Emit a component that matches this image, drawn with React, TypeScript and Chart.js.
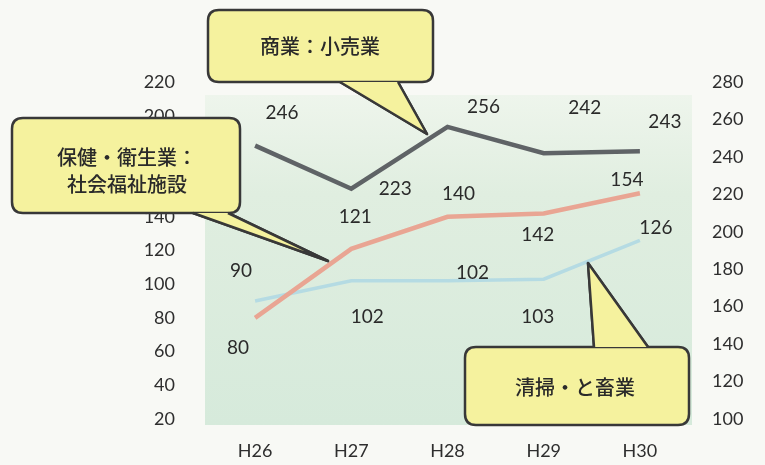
import React, { useEffect, useRef } from "react";
import { Chart, registerables } from "chart.js";

Chart.register(...registerables);

const categories = ["H26", "H27", "H28", "H29", "H30"];
const retail = [246, 223, 256, 242, 243]; // 商業：小売業 (right axis)
const welfare = [80, 121, 140, 142, 154]; // 保健・衛生業：社会福祉施設 (left axis)
const cleaning = [90, 102, 102, 103, 126]; // 清掃・と畜業 (left axis)
const leftTicks = [20, 220, 20];
const rightTicks = [100, 280, 20];

// label offsets (dx, dy) in px relative to each point
const retailLabelOffsets = [[27, -33], [44, 0], [36, -20], [41, -45], [25, -29]];
const welfareLabelOffsets = [[-17, 30], [4, -32], [11, -23], [-6, 21], [-13, -13]];
const cleaningLabelOffsets = [[-14, -30], [16, 36], [25, -8], [-6, 38], [16, -13]];

const FONT = "Lato, 'Open Sans', sans-serif";
const JP = "'Noto Sans CJK JP', sans-serif";

function roundRect(ctx: CanvasRenderingContext2D, x: number, y: number, w: number, h: number, r: number) {
  ctx.moveTo(x + r, y);
  ctx.lineTo(x + w - r, y);
  ctx.quadraticCurveTo(x + w, y, x + w, y + r);
  ctx.lineTo(x + w, y + h - r);
  ctx.quadraticCurveTo(x + w, y + h, x + w - r, y + h);
  ctx.lineTo(x + r, y + h);
  ctx.quadraticCurveTo(x, y + h, x, y + h - r);
  ctx.lineTo(x, y + r);
  ctx.quadraticCurveTo(x, y, x + r, y);
}

function callout(
  ctx: CanvasRenderingContext2D,
  box: [number, number, number, number],
  ptr: [number, number][],
  lines: string[],
  cx: number,
  cy: number
) {
  const [x, y, w, h] = box;
  ctx.save();
  ctx.fillStyle = "#f5f29e";
  ctx.strokeStyle = "#383838";
  ctx.lineWidth = 2.5;
  ctx.lineJoin = "round";
  ctx.beginPath();
  ctx.moveTo(ptr[0][0], ptr[0][1]);
  ctx.lineTo(ptr[1][0], ptr[1][1]);
  ctx.lineTo(ptr[2][0], ptr[2][1]);
  ctx.closePath();
  ctx.fill();
  ctx.stroke();
  ctx.beginPath();
  roundRect(ctx, x, y, w, h, 11);
  ctx.fill();
  ctx.stroke();
  ctx.beginPath();
  ctx.moveTo(ptr[0][0], ptr[0][1]);
  ctx.lineTo(ptr[1][0], ptr[1][1]);
  ctx.lineTo(ptr[2][0], ptr[2][1]);
  ctx.closePath();
  ctx.fill();
  ctx.beginPath();
  ctx.moveTo(ptr[0][0], ptr[0][1]);
  ctx.lineTo(ptr[1][0], ptr[1][1]);
  ctx.lineTo(ptr[2][0], ptr[2][1]);
  ctx.stroke();
  ctx.fillStyle = "#2a2a2a";
  ctx.font = `500 20px ${JP}`;
  ctx.textAlign = "center";
  ctx.textBaseline = "middle";
  const lh = 27;
  lines.forEach((t, i) => ctx.fillText(t, cx, cy + (i - (lines.length - 1) / 2) * lh));
  ctx.restore();
}

const bgPlugin = {
  id: "bg",
  beforeDraw(chart: any) {
    const ctx = chart.ctx;
    const { left, right, bottom } = chart.chartArea;
    ctx.save();
    ctx.fillStyle = "#f8f9f5";
    ctx.fillRect(0, 0, chart.width, chart.height);
    const g = ctx.createLinearGradient(0, 95, 0, 425);
    g.addColorStop(0, "#eef5ec");
    g.addColorStop(0.3, "#e0eee0");
    g.addColorStop(1, "#d6eadb");
    ctx.fillStyle = g;
    ctx.fillRect(left - 2, 95, right - left + 6, bottom + 6 - 95);
    ctx.restore();
  },
};

const overlayPlugin = {
  id: "overlay",
  afterDatasetsDraw(chart: any) {
    const ctx = chart.ctx;
    callout(ctx, [208, 10, 225, 72], [[340, 82], [427, 134], [398, 82]], ["商業：小売業"], 320, 46);
    callout(ctx, [12, 118, 228, 95], [[193, 213], [328, 261], [228, 213]], ["保健・衛生業：", "社会福祉施設"], 127, 171);
    callout(ctx, [465, 347, 224, 78], [[594, 347], [588, 263], [648, 347]], ["清掃・と畜業"], 575, 387);

    const offsets = [retailLabelOffsets, welfareLabelOffsets, cleaningLabelOffsets];
    ctx.save();
    ctx.font = `19px ${FONT}`;
    ctx.fillStyle = "#2a2a2a";
    ctx.textAlign = "center";
    ctx.textBaseline = "middle";
    chart.data.datasets.forEach((ds: any, di: number) => {
      const meta = chart.getDatasetMeta(di);
      meta.data.forEach((pt: any, i: number) => {
        const [dx, dy] = offsets[di][i];
        ctx.fillText(String(ds.data[i]), pt.x + dx, pt.y + dy);
      });
    });
    ctx.restore();
  },
};

export default function App() {
  const ref = useRef<HTMLCanvasElement>(null);
  useEffect(() => {
    document.body.style.margin = "0";
    const tickFont = { size: 18, family: FONT };
    const chart = new Chart(ref.current!, {
      type: "line",
      data: {
        labels: categories,
        datasets: [
          {
            label: "商業：小売業",
            data: retail,
            yAxisID: "y1",
            borderColor: "#5f6366",
            borderWidth: 4.5,
            pointRadius: 0,
            tension: 0,
          },
          {
            label: "保健・衛生業：社会福祉施設",
            data: welfare,
            yAxisID: "y",
            borderColor: "#e9a593",
            borderWidth: 4.5,
            pointRadius: 0,
            tension: 0,
          },
          {
            label: "清掃・と畜業",
            data: cleaning,
            yAxisID: "y",
            borderColor: "#b5dbe3",
            borderWidth: 3.5,
            pointRadius: 0,
            tension: 0,
          },
        ],
      },
      options: {
        animation: false,
        responsive: false,
        layout: { padding: { top: 82, bottom: 0, left: 0, right: 0 } },
        plugins: { legend: { display: false }, tooltip: { enabled: false } },
        scales: {
          x: {
            offset: true,
            grid: { display: false, drawTicks: false },
            border: { display: false },
            ticks: { color: "#2e2e2e", font: tickFont, padding: 21 },
            afterFit: (s: any) => { s.height = 46; },
          },
          y: {
            position: "left",
            min: leftTicks[0],
            max: leftTicks[1],
            grid: { display: false, drawTicks: false },
            border: { display: false },
            ticks: { stepSize: leftTicks[2], color: "#2e2e2e", font: tickFont, padding: 32 },
            afterFit: (s: any) => { s.width = 207; },
          },
          y1: {
            position: "right",
            min: rightTicks[0],
            max: rightTicks[1],
            grid: { display: false, drawTicks: false },
            border: { display: false },
            ticks: { stepSize: rightTicks[2], color: "#2e2e2e", font: tickFont, padding: 24 },
            afterFit: (s: any) => { s.width = 77; },
          },
        },
      },
      plugins: [bgPlugin, overlayPlugin],
    });
    return () => chart.destroy();
  }, []);
  return <canvas ref={ref} width={765} height={465} style={{ display: "block" }} />;
}
